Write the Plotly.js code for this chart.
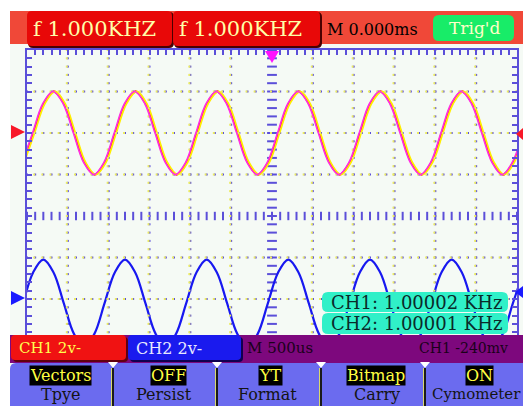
<!DOCTYPE html>
<html><head><meta charset="utf-8">
<script src="https://cdn.plot.ly/plotly-3.0.1.min.js"></script>
<style>html,body{margin:0;padding:0;background:#fff;overflow:hidden}</style>
</head><body><div id="chart" style="width:523px;height:406px"></div>
<script>
// ---------------- data (read from the screen) ----------------
// time in ms (500 us/div, 12 divisions), voltage in V (2 V/div)
const ch1Time = [-3.045,-2.92,-2.795,-2.67,-2.545,-2.42,-2.295,-2.17,-2.045,-1.92,-1.795,-1.67,-1.545,-1.42,-1.295,-1.17,-1.045,-0.92,-0.795,-0.67,-0.545,-0.42,-0.295,-0.17,-0.045,0.08,0.205,0.33,0.455,0.58,0.705,0.83,0.955,1.08,1.205,1.33,1.455,1.58,1.705,1.83,1.955,2.08,2.205,2.33,2.455,2.58,2.705,2.83,2.955,3.08];
const ch1Volts = [-1.41,0,1.41,2,1.41,0,-1.41,-2,-1.41,0,1.41,2,1.41,0,-1.41,-2,-1.41,0,1.41,2,1.41,0,-1.41,-2,-1.41,0,1.41,2,1.41,0,-1.41,-2,-1.41,0,1.41,2,1.41,0,-1.41,-2,-1.41,0,1.41,2,1.41,0,-1.41,-2,-1.41,0];
const ch2Time = [-3.175,-3.05,-2.925,-2.8,-2.675,-2.55,-2.425,-2.3,-2.175,-2.05,-1.925,-1.8,-1.675,-1.55,-1.425,-1.3,-1.175,-1.05,-0.925,-0.8,-0.675,-0.55,-0.425,-0.3,-0.175,-0.05,0.075,0.2,0.325,0.45,0.575,0.7,0.825,0.95,1.075,1.2,1.325,1.45,1.575,1.7,1.825,1.95,2.075,2.2,2.325,2.45,2.575,2.7,2.825,2.95,3.075];
const ch2Volts = [-1.48,0,1.48,2.1,1.48,0,-1.48,-2.1,-1.48,0,1.48,2.1,1.48,0,-1.48,-2.1,-1.48,0,1.48,2.1,1.48,0,-1.48,-2.1,-1.48,0,1.48,2.1,1.48,0,-1.48,-2.1,-1.48,0,1.48,2.1,1.48,0,-1.48,-2.1,-1.48,0,1.48,2.1,1.48,0,-1.48,-2.1,-1.48,0,1.48];
const ch1Offset = 4;     // CH1 baseline shown 2 div above centre
const ch2Offset = -4.2;  // CH2 baseline shown ~2 div below centre
const topReadouts = ["f 1.000KHZ", "f 1.000KHZ"];
const timebaseTop = "M 0.000ms";
const trigText = "Trig'd";
const cymometer = ["CH1: 1.00002 KHz", "CH2: 1.00001 KHz"];
const statusTexts = ["CH1 2v-", "CH2 2v-", "M 500us", "CH1 -240mv"];
const menuValues = ["Vectors", "OFF", "YT", "Bitmap", "ON"];
const menuNames = ["Tpye", "Persist", "Format", "Carry", "Cymometer"];

// ---------------- geometry helpers ----------------
const L = 27, R = 517, T = 50, B = 382, W = R - L, H = B - T;
const X = p => (p - L) / W, Y = p => (B - p) / H;
const PX = 6 / W; // ms per pixel
const GRID = '#5b4fd9';
const FONT = 'DejaVu Serif, Liberation Serif, serif';

function rect(x0, y0, x1, y1, color) {
  return {type:'rect', xref:'paper', yref:'paper', x0:X(x0), x1:X(x1), y0:Y(y1), y1:Y(y0),
          fillcolor:color, line:{width:0}, layer:'above'};
}
function P(x, y) { return X(x) + ' ' + Y(y); }
function rrect(x0, y0, x1, y1, r, color) {
  const d = `M${P(x0+r,y0)} L${P(x1-r,y0)} Q${P(x1,y0)} ${P(x1,y0+r)} L${P(x1,y1-r)} Q${P(x1,y1)} ${P(x1-r,y1)} L${P(x0+r,y1)} Q${P(x0,y1)} ${P(x0,y1-r)} L${P(x0,y0+r)} Q${P(x0,y0)} ${P(x0+r,y0)} Z`;
  return {type:'path', xref:'paper', yref:'paper', path:d, fillcolor:color, line:{width:0}, layer:'above'};
}
function poly(pts, color) {
  const d = 'M' + pts.map(p => P(p[0], p[1])).join(' L') + ' Z';
  return {type:'path', xref:'paper', yref:'paper', path:d, fillcolor:color, line:{width:0}, layer:'above'};
}
function txt(text, px, py, size, color, anchor, extra) {
  return Object.assign({text:text, xref:'paper', yref:'paper', x:X(px), y:Y(py), xanchor:anchor||'left', yanchor:'middle',
    showarrow:false, font:{family:FONT, size:size, color:color}}, extra||{});
}

// ---------------- grid (decoration) ----------------
const gx = [], gy = [];
for (let k = 1; k < 12; k++) { const t = -3 + 0.5 * k; if (k === 6) continue;
  for (let j = 0; j <= 40; j++) { gx.push(t); gy.push(-8 + 0.4 * j); } }
for (let k = 1; k < 8; k++) { const v = -8 + 2 * k; if (k === 4) continue;
  for (let j = 0; j <= 60; j++) { gx.push(-3 + 0.1 * j); gy.push(v); } }
const cxH = [], cyH = [], cxV = [], cyV = [];
for (let j = 0; j <= 60; j++) { cxH.push(-3 + 0.1 * j); cyH.push(0); }
for (let j = 0; j <= 40; j++) { cxV.push(0); cyV.push(-8 + 0.4 * j); }

const traces = [
  {x:gx, y:gy, xaxis:'x3', mode:'markers', marker:{symbol:'square', size:2, color:'#ecec60', line:{width:0}}, hoverinfo:'skip'},
  {x:gx, y:gy, mode:'markers', marker:{symbol:'square', size:2, color:GRID, line:{width:0}}, hoverinfo:'skip'},
  {x:cxH, y:cyH, mode:'markers', marker:{symbol:'line-ns', size:6, line:{width:2, color:GRID}}, hoverinfo:'skip'},
  {x:cxV, y:cyV, mode:'markers', marker:{symbol:'line-ew', size:7, line:{width:2, color:GRID}}, hoverinfo:'skip'},
  // CH1 (yellow / magenta fringes, red core)
  {x:ch1Time, y:ch1Volts.map(v => v + ch1Offset), xaxis:'x2', mode:'lines', line:{color:'#ffee00', width:1.8, shape:'spline'}},
  {x:ch1Time, y:ch1Volts.map(v => v + ch1Offset), xaxis:'x3', mode:'lines', line:{color:'#ff30e0', width:1.6, shape:'spline'}},
  {x:ch1Time, y:ch1Volts.map(v => v + ch1Offset), mode:'lines', line:{color:'#f4082a', width:2.4, shape:'spline'}},
  // CH2
  {x:ch2Time, y:ch2Volts.map(v => v + ch2Offset), mode:'lines', line:{color:'#1818f0', width:2.2, shape:'spline'}}
];

// ---------------- screen furniture ----------------
const shapes = [
  rect(0, 0, 10, 406, '#ffffff'), rect(0, 0, 523, 11, '#ffffff'),
  rect(10, 11, 523, 44, '#f04838'),
  rrect(28, 12, 174, 48, 5, '#4a0000'), rrect(27, 11, 172, 46, 5, '#e80808'),
  rrect(174, 12, 322, 48, 5, '#4a0000'), rrect(173, 11, 320, 46, 5, '#e80808'),
  rrect(433, 15, 514, 41, 6, '#18ec68'),
  poly([[265,51],[279,51],[272,63]], '#ff10ff'),
  poly([[11,125],[25,132],[11,139]], '#f81828'),
  poly([[11,291],[25,298],[11,305]], '#1a1aff'),
  poly([[523,128],[516,134],[523,140]], '#f81828'),
  poly([[523,286],[515,292],[523,298]], '#1a1aff'),
  rrect(322, 292, 508, 312, 6, '#30f0c8'),
  rrect(322, 313, 508, 334, 6, '#30f0c8'),
  rect(10, 335, 523, 363, '#7d087d'),
  rrect(13, 337, 128, 362, 4, '#600010'), rrect(11, 335, 126, 360, 4, '#f01212'),
  rrect(130, 337, 243, 362, 4, '#100050'), rrect(128, 335, 241, 360, 4, '#1a1aee'),
  rrect(10, 363, 530, 420, 6, '#6b6bef')
];
[113, 217, 321, 425].forEach(sx => {
  shapes.push(rect(sx - 2, 368, sx - 1, 406, '#d8d870'));
  shapes.push(rect(sx - 1, 368, sx + 1, 406, '#1a1a1a'));
  shapes.push(poly([[sx-5,362],[sx+5,362],[sx,368]], '#ffffff'));
});

const annotations = [
  txt(topReadouts[0], 31, 29, 21, '#ffffa8'),
  txt(topReadouts[1], 177, 29, 21, '#ffffa8'),
  txt(timebaseTop, 325, 30, 16, '#000000'),
  txt(trigText, 447, 28, 17, '#ffffc8'),
  txt(cymometer[0], 329, 302, 18, '#0a2a2a'),
  txt(cymometer[1], 329, 323, 18, '#0a2a2a'),
  txt(statusTexts[0], 17, 348, 15, '#ffff50'),
  txt(statusTexts[1], 134, 348, 16, '#e8e8ff'),
  txt(statusTexts[2], 245, 348, 15, '#1a001a'),
  txt(statusTexts[3], 417, 348, 14, '#1a001a')
];
const menuCx = [60, 168, 270, 376, 479];
const nameCx = [60, 164, 267, 377, 476];
menuValues.forEach((m, i) => annotations.push(txt(m, menuCx[i], 375, 16, '#ffff40', 'center', {bgcolor:'#000000', borderpad:0})));
menuNames.forEach((m, i) => annotations.push(txt(m, nameCx[i], 394, i === 4 ? 15 : 16, '#141414', 'center')));

const axisCommon = {showgrid:false, zeroline:false, showline:true, linecolor:GRID, linewidth:2, mirror:'ticks',
  ticks:'inside', ticklen:5, tickwidth:2, tickcolor:GRID, showticklabels:false, fixedrange:true};
const layout = {
  width:523, height:406, margin:{l:L, r:523 - R, t:T, b:406 - B, pad:0},
  paper_bgcolor:'#f5faf5', plot_bgcolor:'#f5faf5', showlegend:false,
  xaxis:Object.assign({range:[-3, 3], tick0:-3, dtick:0.1}, axisCommon),
  xaxis2:{overlaying:'x', range:[-3 - PX, 3 - PX], visible:false, fixedrange:true},
  xaxis3:{overlaying:'x', range:[-3 + PX, 3 + PX], visible:false, fixedrange:true},
  yaxis:Object.assign({range:[-8, 8], tick0:-8, dtick:0.4}, axisCommon),
  shapes:shapes, annotations:annotations
};
Plotly.newPlot('chart', traces, layout, {displayModeBar:false, staticPlot:true});
</script></body></html>
